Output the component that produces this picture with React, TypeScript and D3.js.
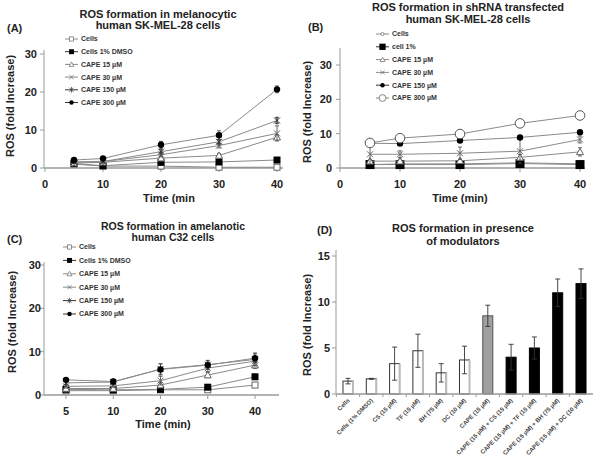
import React from 'react'
import * as d3 from 'd3'

// time points (min)
const times = [5, 10, 20, 30, 40]
const seriesNamesA = ['Cells', 'Cells 1% DMSO', 'CAPE 15 µM', 'CAPE 30 µM', 'CAPE 150 µM', 'CAPE 300 µM']
const seriesNamesB = ['Cells', 'cell 1%', 'CAPE 15 µM', 'CAPE 30 µM', 'CAPE 150 µM', 'CAPE 300 µM']
const markersAC = ['openSquare', 'square', 'triangle', 'cross', 'star', 'dot']
const markersB = ['smallCircle', 'bigSquare', 'triangle', 'cross', 'dot', 'openCircle']

// panel A
const aCells = [1.0, 0.5, 0.5, 0.2, 0.2]
const aDmso = [1.2, 0.6, 1.5, 1.6, 2.1]
const aCape15 = [1.3, 1.5, 2.6, 3.3, 8.1]
const aCape30 = [1.5, 1.7, 3.5, 5.9, 9.1]
const aCape150 = [1.6, 1.7, 4.3, 6.9, 12.5]
const aCape300 = [2.1, 2.5, 6.1, 8.6, 20.7]
const aErr = [
  [0.3, 0.3, 0.8, 0.4, 0.5],
  [0.3, 0.4, 0.8, 0.7, 0.6],
  [0.3, 0.3, 0.6, 0.5, 0.6],
  [0.3, 0.3, 0.6, 0.6, 2.0],
  [0.3, 0.3, 0.6, 0.6, 0.8],
  [0.3, 0.3, 0.9, 1.2, 0.9],
]

// panel B
const bCells = [1.0, 1.2, 1.2, 1.5, 1.2]
const bCell1 = [1.0, 1.0, 1.0, 1.3, 1.0]
const bCape15 = [2.0, 2.0, 2.1, 3.1, 4.7]
const bCape30 = [4.0, 4.0, 4.3, 4.9, 8.3]
const bCape150 = [7.2, 7.1, 8.0, 8.9, 10.4]
const bCape300 = [7.3, 8.7, 9.9, 13.0, 15.3]
const bErr = [
  [0.3, 0.3, 0.3, 0.3, 0.3],
  [0.3, 0.3, 0.3, 0.4, 0.3],
  [0.5, 0.5, 0.5, 0.8, 1.2],
  [3.0, 1.0, 1.8, 3.5, 1.0],
  [0.3, 0.3, 0.3, 0.3, 0.3],
  [0.8, 0.9, 1.1, 0.8, 0.9],
]

// panel C
const cCells = [1.0, 1.0, 1.2, 1.2, 2.3]
const cDmso = [1.3, 1.2, 1.3, 1.8, 4.2]
const cCape15 = [1.5, 1.5, 2.3, 4.6, 6.9]
const cCape30 = [2.0, 2.1, 3.3, 6.2, 7.8]
const cCape150 = [2.8, 3.0, 6.0, 7.0, 8.2]
const cCape300 = [3.5, 3.1, 5.9, 6.9, 8.5]
const cErr = [
  [0.3, 0.3, 0.3, 0.3, 0.3],
  [0.3, 0.3, 0.3, 0.4, 0.6],
  [0.3, 0.3, 0.6, 0.6, 0.8],
  [0.4, 0.3, 1.0, 0.8, 1.0],
  [0.4, 0.3, 1.2, 1.0, 1.5],
  [0.3, 0.3, 1.3, 1.0, 1.0],
]

// panel D
const dCategories = ['Cells', 'Cells (1% DMSO)', 'CS (15 µM)', 'TF (15 µM)', 'BH (75 µM)', 'DC (10 µM)', 'CAPE (15 µM)',
  'CAPE (15 µM) + CS (15 µM)', 'CAPE (15 µM) + TF (15 µM)', 'CAPE (15 µM) + BH (75 µM)', 'CAPE (15 µM) + DC (10 µM)']
const dValues = [1.4, 1.65, 3.3, 4.7, 2.3, 3.7, 8.5, 4.0, 5.0, 11.0, 12.0]
const dErrors = [0.3, 0.05, 1.8, 1.8, 1.0, 1.5, 1.15, 1.4, 1.2, 1.5, 1.6]
const dKinds = ['white', 'white', 'white', 'white', 'white', 'white', 'gray', 'black', 'black', 'black', 'black']

const yTicks30 = [0, 10, 20, 30]
const yTicks15 = [0, 5, 10, 15]
const xTicks40 = [0, 10, 20, 30, 40]

const FONT = '"Liberation Sans", Arial, sans-serif'
const LINE = '#8a8a8a'
const AXIS = '#9a9a9a'

function Marker({ type, x, y }: { type: string, x: number, y: number }) {
  const g = '#666'
  switch (type) {
    case 'openSquare':
      return <rect x={x - 3} y={y - 3} width={6} height={6} fill="#fff" stroke={g} strokeWidth={1} />
    case 'square':
      return <rect x={x - 3.5} y={y - 3.5} width={7} height={7} fill="#000" />
    case 'bigSquare':
      return <rect x={x - 4.5} y={y - 4.5} width={9} height={9} fill="#000" />
    case 'triangle':
      return <path d={`M${x},${y - 3.5}L${x + 3.5},${y + 2.8}L${x - 3.5},${y + 2.8}Z`} fill="#fff" stroke={g} />
    case 'cross':
      return <path d={`M${x - 3},${y - 3}L${x + 3},${y + 3}M${x - 3},${y + 3}L${x + 3},${y - 3}`} stroke={g} />
    case 'star':
      return <path d={`M${x - 3},${y - 3}L${x + 3},${y + 3}M${x - 3},${y + 3}L${x + 3},${y - 3}M${x},${y - 4}L${x},${y + 4}`} stroke="#333" />
    case 'dot':
      return <circle cx={x} cy={y} r={3.2} fill="#000" />
    case 'smallCircle':
      return <circle cx={x} cy={y} r={2.2} fill="#fff" stroke={g} />
    case 'openCircle':
      return <circle cx={x} cy={y} r={4.8} fill="#fff" stroke="#555" />
    default:
      return null
  }
}

type LinePanelProps = {
  series: number[][]
  errors: number[][]
  names: string[]
  markers: string[]
  x: (v: number, i: number) => number
  y: d3.ScaleLinear<number, number>
  xAxis: [number, number]
  yTop: number
  xTickVals: number[]
  xTickPos: (v: number) => number
  tickLabelY: number
  yLabelDx: number
  legend: { x: number, y: number, dy: number }
  titles: string[]
  titleX: number
  titleY: number[]
  titleSize?: number
  tag: string
  tagPos: [number, number]
  xTitle: string
  xTitlePos: [number, number]
  yTitlePos: [number, number]
}

function LinePanel(p: LinePanelProps) {
  const x0 = p.xAxis[0]
  const yBase = p.y(0)
  const line = d3.line<number>().x((d, i) => p.x(times[i], i)).y(d => p.y(d))
  return (
    <g fontFamily={FONT}>
      {p.titles.map((t, i) => (
        <text key={t} x={p.titleX} y={p.titleY[i]} textAnchor="middle" fontSize={p.titleSize || 11} fontWeight="bold" fill="#222">{t}</text>
      ))}
      <text x={p.tagPos[0]} y={p.tagPos[1]} fontSize={11} fontWeight="bold" fill="#222">{p.tag}</text>
      {/* axes */}
      <line x1={x0} x2={x0} y1={yBase} y2={p.yTop} stroke={AXIS} />
      <line x1={p.xAxis[0]} x2={p.xAxis[1]} y1={yBase} y2={yBase} stroke={AXIS} strokeWidth={1.5} />
      {p.y.ticks(3).filter(t => yTicks30.includes(t)).map(t => (
        <g key={t}>
          <line x1={x0 - 4} x2={x0} y1={p.y(t)} y2={p.y(t)} stroke={AXIS} />
          <text x={x0 + p.yLabelDx} y={p.y(t)} dy="0.35em" textAnchor="end" fontSize={11} fontWeight="bold" fill="#222">{t}</text>
        </g>
      ))}
      {p.xTickVals.map(t => (
        <g key={t}>
          <line x1={p.xTickPos(t)} x2={p.xTickPos(t)} y1={yBase} y2={yBase + 4} stroke={AXIS} />
          <text x={p.xTickPos(t)} y={p.tickLabelY} textAnchor="middle" fontSize={11} fontWeight="bold" fill="#222">{t}</text>
        </g>
      ))}
      <text x={p.xTitlePos[0]} y={p.xTitlePos[1]} textAnchor="middle" fontSize={11} fontWeight="bold" fill="#222">{p.xTitle}</text>
      <text transform={`translate(${p.yTitlePos[0]},${p.yTitlePos[1]}) rotate(-90)`} textAnchor="middle" dy="0.35em" fontSize={11} fontWeight="bold" fill="#222">ROS (fold Increase)</text>
      {/* series */}
      {p.series.map((s, si) => (
        <g key={si}>
          <path d={line(s) || ''} fill="none" stroke={LINE} strokeWidth={1} />
          {s.map((v, i) => {
            const cx = p.x(times[i], i)
            const e = p.errors[si][i]
            return (
              <g key={i}>
                <path d={`M${cx},${p.y(v - e)}V${p.y(v + e)}M${cx - 2},${p.y(v + e)}H${cx + 2}M${cx - 2},${p.y(v - e)}H${cx + 2}`} stroke="#444" strokeWidth={0.8} />
              </g>
            )
          })}
          {s.map((v, i) => <Marker key={'m' + i} type={p.markers[si]} x={p.x(times[i], i)} y={p.y(v)} />)}
        </g>
      ))}
      {/* legend */}
      {p.names.map((n, i) => {
        const ly = p.legend.y + i * p.legend.dy
        return (
          <g key={n}>
            <line x1={p.legend.x} x2={p.legend.x + 13} y1={ly} y2={ly} stroke={p.markers[i] === 'square' || p.markers[i] === 'bigSquare' || p.markers[i] === 'dot' || p.markers[i] === 'star' ? '#333' : LINE} />
            <g transform={`translate(${p.legend.x + 6.5},${ly}) scale(0.7) translate(${-(p.legend.x + 6.5)},${-ly})`}>
              <Marker type={p.markers[i]} x={p.legend.x + 6.5} y={ly} />
            </g>
            <text x={p.legend.x + 16} y={ly} dy="0.35em" fontSize={7} fontWeight="bold" fill="#333">{n}</text>
          </g>
        )
      })}
    </g>
  )
}

function BarPanel() {
  const x = d3.scaleBand<string>().domain(dCategories).range([336, 593]).paddingInner(0.57).paddingOuter(0.3)
  const y = d3.scaleLinear().domain([0, 15]).range([394, 256])
  const bw = x.bandwidth()
  const step = x.step()
  return (
    <g fontFamily={FONT}>
      <text x={463} y={232} textAnchor="middle" fontSize={11} fontWeight="bold" fill="#222">ROS formation in presence</text>
      <text x={463} y={245} textAnchor="middle" fontSize={11} fontWeight="bold" fill="#222">of modulators</text>
      <text x={317} y={234} fontSize={11} fontWeight="bold" fill="#222">(D)</text>
      <line x1={336} x2={336} y1={394} y2={250} stroke={AXIS} />
      {yTicks15.map(t => (
        <g key={t}>
          <line x1={332} x2={336} y1={y(t)} y2={y(t)} stroke={AXIS} />
          <text x={330} y={y(t)} dy="0.35em" textAnchor="end" fontSize={11} fontWeight="bold" fill="#222">{t}</text>
        </g>
      ))}
      <text transform="translate(307,325) rotate(-90)" textAnchor="middle" dy="0.35em" fontSize={11} fontWeight="bold" fill="#222">ROS (fold Increase)</text>
      {dCategories.map((c, i) => {
        const bx = x(c) as number
        const v = dValues[i]
        const e = dErrors[i]
        const k = dKinds[i]
        const cx = bx + bw / 2
        return (
          <g key={c}>
            {k === 'white' ? (
              <g>
                <rect x={bx} y={y(v)} width={bw} height={y(0) - y(v)} fill="#fff" stroke="#333" strokeWidth={1} />
                <line x1={bx + bw} x2={bx + bw} y1={y(v)} y2={y(0)} stroke="#bbb" strokeWidth={2} />
              </g>
            ) : (
              <rect x={bx} y={y(v)} width={bw} height={y(0) - y(v)} fill={k === 'gray' ? '#a0a0a0' : '#000'} stroke={k === 'gray' ? '#555' : '#000'} />
            )}
            <path d={`M${cx},${y(v - e)}V${y(v + e)}M${cx - 2.5},${y(v + e)}H${cx + 2.5}M${cx - 2.5},${y(v - e)}H${cx + 2.5}`} stroke="#333" strokeWidth={0.9} />
            <line x1={bx - (step - bw) / 2} x2={bx - (step - bw) / 2} y1={394} y2={397} stroke={AXIS} />
            <text transform={`translate(${cx + 2},${401}) rotate(-45)`} textAnchor="end" fontSize={6} fontWeight="bold" fill="#444">{c}</text>
          </g>
        )
      })}
      <line x1={336} x2={593} y1={394} y2={394} stroke={AXIS} strokeWidth={1.5} />
    </g>
  )
}

export default function App() {
  const xA = d3.scaleLinear().domain([0, 40]).range([45, 277])
  const yA = d3.scaleLinear().domain([0, 30]).range([168, 54])
  const xB = d3.scaleLinear().domain([0, 40]).range([340, 580])
  const yB = d3.scaleLinear().domain([0, 30]).range([168, 65])
  const xC = d3.scalePoint<number>().domain(times).range([66, 255])
  const yC = d3.scaleLinear().domain([0, 30]).range([395, 265])
  return (
    <svg width={601} height={468} style={{ position: 'absolute', left: 0, top: 0, background: '#fff' }}>
      <rect width={601} height={468} fill="#fff" />
      <LinePanel
        series={[aCells, aDmso, aCape15, aCape30, aCape150, aCape300]} errors={aErr}
        names={seriesNamesA} markers={markersAC}
        x={v => xA(v)} y={yA} xAxis={[44, 283]} yTop={50}
        xTickVals={xTicks40} xTickPos={v => xA(v)} tickLabelY={188} yLabelDx={-7}
        legend={{ x: 65, y: 39, dy: 12.7 }}
        titles={['ROS formation in melanocytic', 'human SK-MEL-28 cells']} titleX={158} titleY={[18, 29]}
        tag="(A)" tagPos={[7, 32]} xTitle="Time (min" xTitlePos={[169, 202]} yTitlePos={[10, 106]}
      />
      <LinePanel
        series={[bCells, bCell1, bCape15, bCape30, bCape150, bCape300]} errors={bErr}
        names={seriesNamesB} markers={markersB}
        x={v => xB(v)} y={yB} xAxis={[340, 585]} yTop={48}
        xTickVals={xTicks40} xTickPos={v => xB(v)} tickLabelY={188} yLabelDx={-8}
        legend={{ x: 376, y: 34, dy: 12.8 }}
        titles={['ROS formation in shRNA transfected', 'human SK-MEL-28 cells']} titleX={468} titleY={[11, 23]}
        tag="(B)" tagPos={[308, 31]} xTitle="Time (min)" xTitlePos={[460, 202]} yTitlePos={[307, 112]}
      />
      <LinePanel
        series={[cCells, cDmso, cCape15, cCape30, cCape150, cCape300]} errors={cErr}
        names={seriesNamesA} markers={markersAC}
        x={(v) => xC(v) as number} y={yC} xAxis={[44, 279]} yTop={262}
        xTickVals={times} xTickPos={v => xC(v) as number} tickLabelY={415} yLabelDx={-3}
        legend={{ x: 63, y: 247, dy: 13.4 }}
        titles={['ROS formation in  amelanotic', 'human C32 cells']} titleX={173} titleY={[229.5, 241]} titleSize={10.5}
        tag="(C)" tagPos={[7, 243]} xTitle="Time (min)" xTitlePos={[163, 428]} yTitlePos={[12, 322]}
      />
      <BarPanel />
    </svg>
  )
}
